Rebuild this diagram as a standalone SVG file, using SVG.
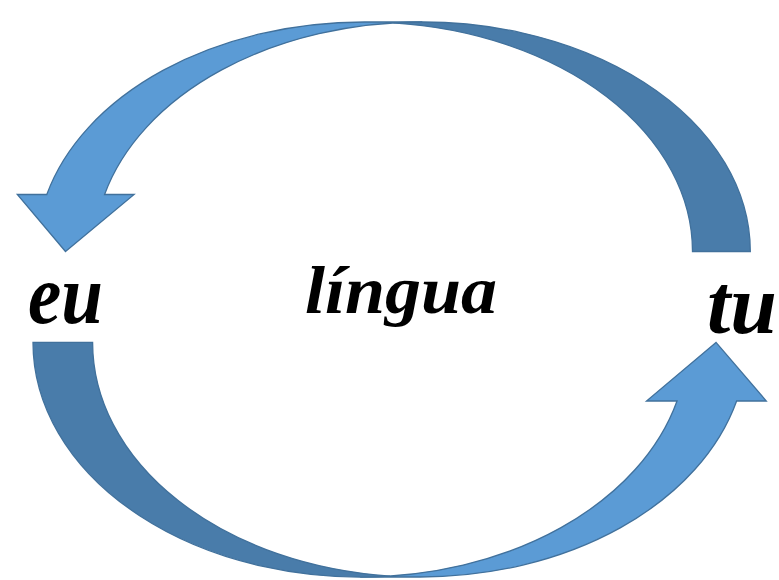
<svg xmlns="http://www.w3.org/2000/svg" width="779" height="580" viewBox="0 0 779 580">
  <style>
    .front { fill: #5B9BD5; stroke: #41719C; stroke-width: 1.3; stroke-linejoin: miter; }
    .back { fill: #497CAA; stroke: #41719C; stroke-width: 1.3; stroke-linejoin: miter; }
    .word { font-family: "Liberation Serif", "Times New Roman", serif; font-style: italic; font-weight: bold; fill: #000000; }
  </style>
  <rect x="0" y="0" width="779" height="580" fill="#FFFFFF"/>

  <g id="connectors">
    <!-- upper curved arrow: from tu over the top, pointing down at eu -->
    <g id="arrow-tu-eu">
      <path class="front" d="M65.5,251.5 L134.1,194.5 L104.58,194.5 A328,229.5 0 0 1 422.3,22 L364.5,22 A328,229.5 0 0 0 46.78,194.5 L17.3,194.5 Z"/>
      <path class="back" d="M393.4,22.89 A328,229.5 0 0 1 750.3,251.5 L692.5,251.5 A328,229.5 0 0 0 393.4,22.89 Z"/>
    </g>
    <!-- lower curved arrow: from eu under the bottom, pointing up at tu -->
    <g id="arrow-eu-tu">
      <path class="front" d="M716,342.4 L646.5,401 L677.03,401 A327.2,234.6 0 0 1 360.2,577 L419.8,577 A327.2,234.6 0 0 0 736.63,401 L766.3,401 Z"/>
      <path class="back" d="M390,576.03 A327.2,234.6 0 0 1 33,342.4 L92.6,342.4 A327.2,234.6 0 0 0 390,576.03 Z"/>
    </g>
  </g>

  <g id="eu">
    <text class="word" x="28" y="323" font-size="84" textLength="75" lengthAdjust="spacingAndGlyphs">eu</text>
  </g>
  <g id="lingua">
    <text class="word" x="305" y="313" font-size="68" textLength="192" lengthAdjust="spacingAndGlyphs">língua</text>
  </g>
  <g id="tu">
    <text class="word" x="707" y="333" font-size="84" textLength="70" lengthAdjust="spacingAndGlyphs">tu</text>
  </g>
</svg>
